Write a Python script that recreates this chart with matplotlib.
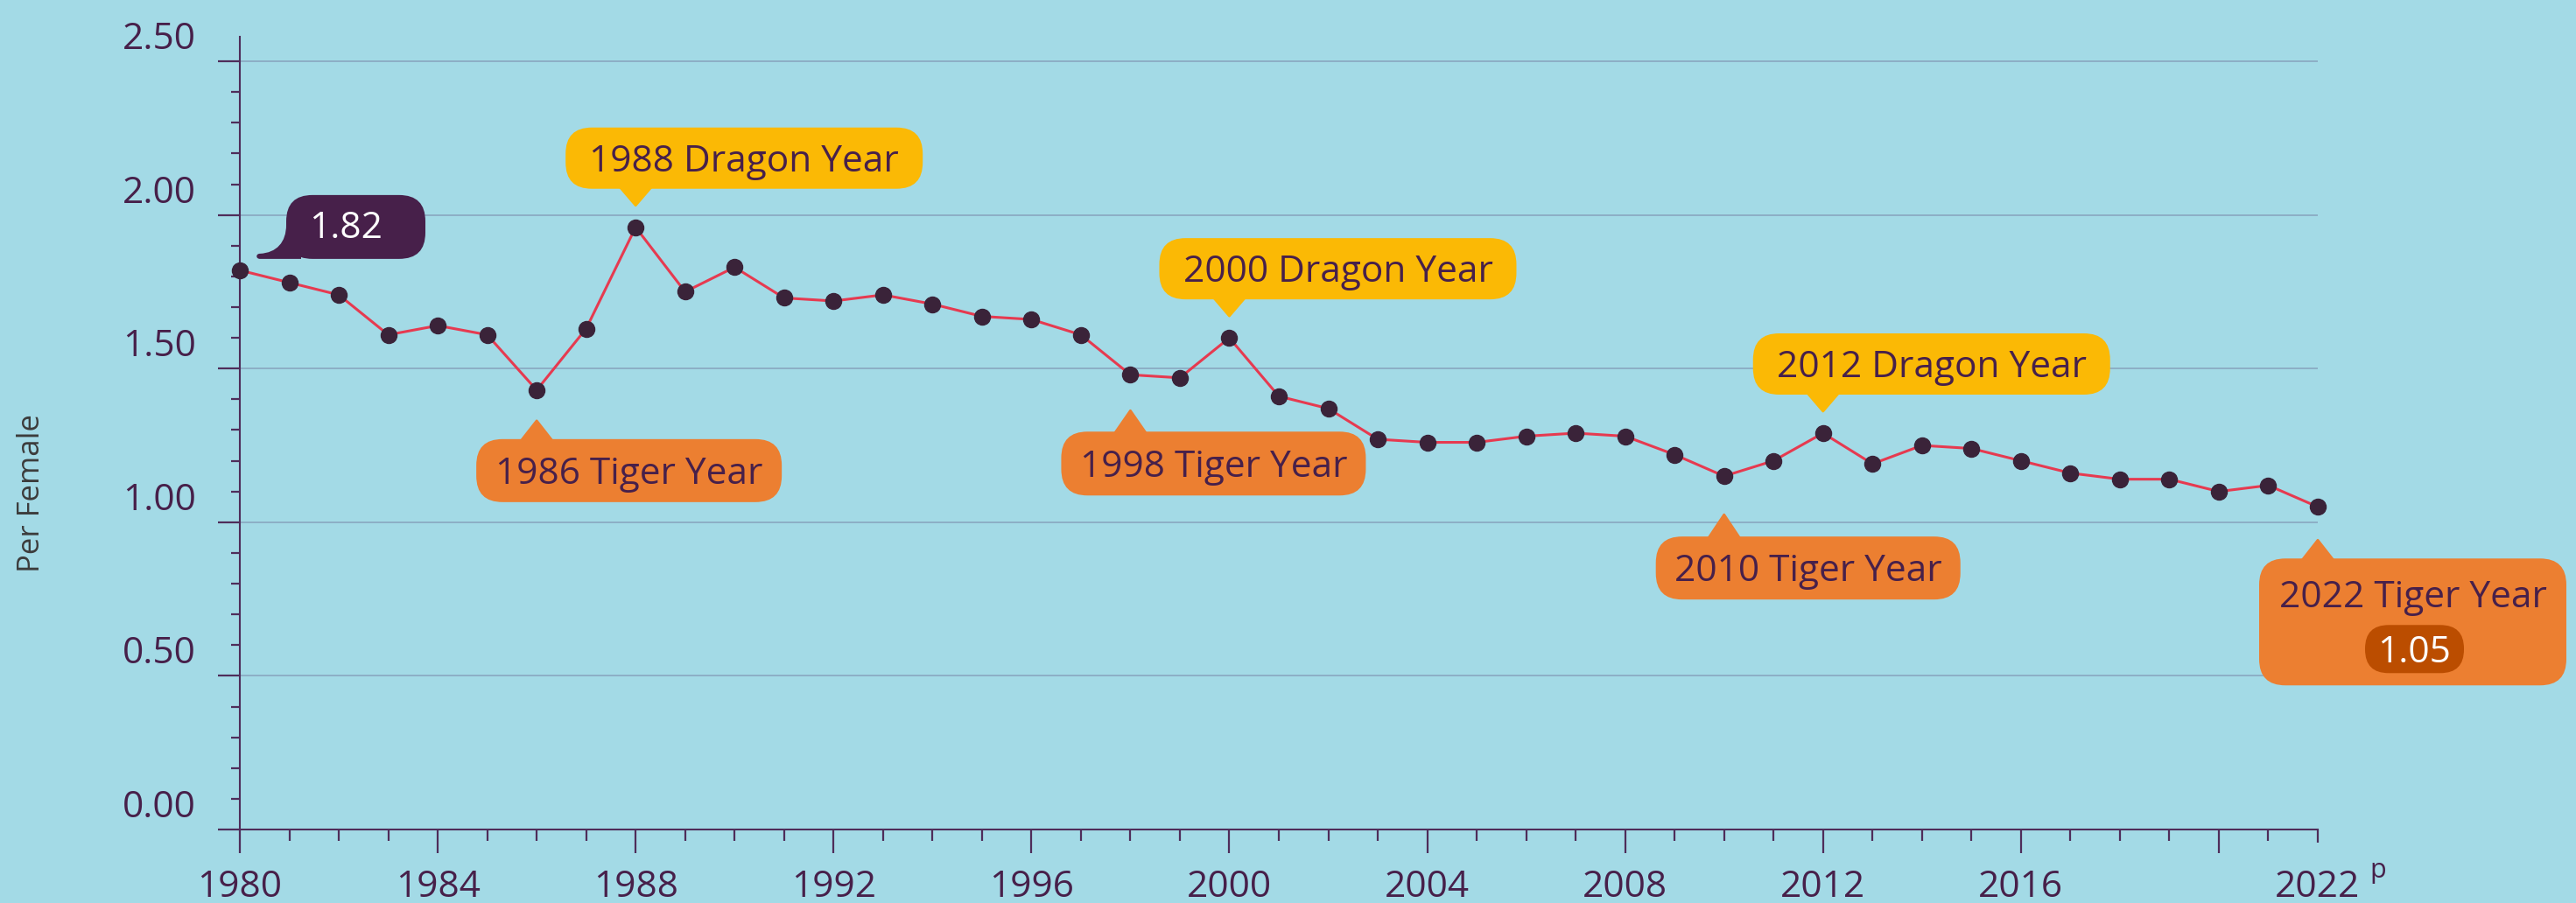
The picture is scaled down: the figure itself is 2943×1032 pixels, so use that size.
import matplotlib
matplotlib.use("Agg")
import matplotlib.pyplot as plt
import matplotlib.transforms as mtransforms
from matplotlib.patches import FancyBboxPatch, Polygon, PathPatch
from matplotlib.path import Path
from matplotlib.ticker import MultipleLocator, FixedLocator

# ---------------- data ----------------
years = list(range(1980, 2023))
tfr = [1.82, 1.78, 1.74, 1.61, 1.64, 1.61, 1.43, 1.63, 1.96, 1.75,
       1.83, 1.73, 1.72, 1.74, 1.71, 1.67, 1.66, 1.61, 1.48, 1.47,
       1.60, 1.41, 1.37, 1.27, 1.26, 1.26, 1.28, 1.29, 1.28, 1.22,
       1.15, 1.20, 1.29, 1.19, 1.25, 1.24, 1.20, 1.16, 1.14, 1.14,
       1.10, 1.12, 1.05]
x_ticks = [1980, 1984, 1988, 1992, 1996, 2000, 2004, 2008, 2012, 2016, 2020, 2022]
x_tick_labels = ["1980", "1984", "1988", "1992", "1996", "2000", "2004",
                 "2008", "2012", "2016", "", "2022"]
y_ticks = [0.0, 0.5, 1.0, 1.5, 2.0, 2.5]
y_tick_labels = ["0.00", "0.50", "1.00", "1.50", "2.00", "2.50"]
y_label = "Per Female"
dragon_years = [1988, 2000, 2012]
tiger_years = [1986, 1998, 2010]
last_year = 2022
first_year = 1980

# ---------------- style ----------------
BG = "#a3dae6"
PURPLE = "#47204a"
TICKC = "#4f2d5a"
LINE = "#e63a50"
MARK = "#3a2339"
YELLOW = "#fbb905"
ORANGE = "#ec7f31"
DARKORANGE = "#bb4d00"
GRID = "#8daec6"
FONT = "Open Sans"
FS = 30.5
DPI = 100

plt.rcParams["font.family"] = [FONT, "DejaVu Sans"]

fig = plt.figure(figsize=(29.43, 10.32), dpi=DPI, facecolor=BG)
ax = fig.add_axes([274 / 2943, 84 / 1032, (2648 - 274) / 2943, (948 - 42) / 1032])
ax.set_facecolor(BG)

ax.plot(years, tfr, color=LINE, lw=2.2, zorder=3, clip_on=False)
ax.plot(years, tfr, ls="none", marker="o", ms=13, color=MARK, zorder=4, clip_on=False)

ax.set_xlim(first_year, last_year)
ax.set_ylim(0, 2.58)

for s in ["top", "right"]:
    ax.spines[s].set_visible(False)
for s in ["left", "bottom"]:
    ax.spines[s].set_color(TICKC)
    ax.spines[s].set_linewidth(1.5)

ax.set_yticks(y_ticks)
ax.set_yticklabels(y_tick_labels)
ax.yaxis.set_minor_locator(MultipleLocator(0.1))
ax.set_xticks(x_ticks)
ax.set_xticklabels(x_tick_labels)
ax.xaxis.set_minor_locator(MultipleLocator(1))

ax.tick_params(axis="y", which="major", direction="out", length=18, width=1.6,
               color=TICKC, labelcolor=PURPLE, labelsize=FS, pad=18)
ax.tick_params(axis="y", which="minor", direction="out", length=7.5, width=1.6, color=TICKC)
ax.tick_params(axis="x", which="major", direction="out", length=19.5, width=1.6,
               color=TICKC, labelcolor=PURPLE, labelsize=FS, pad=13)
ax.tick_params(axis="x", which="minor", direction="out", length=9.5, width=1.6, color=TICKC)
ax.get_xaxis().get_major_ticks()[-1].tick1line.set_markersize(10.5)

for lab in ax.get_yticklabels():
    lab.set_fontfamily([FONT, "DejaVu Sans"])
    lab.set_transform(lab.get_transform() +
                      mtransforms.ScaledTranslation(0, 0.30, fig.dpi_scale_trans))
for lab in ax.get_xticklabels():
    lab.set_fontfamily([FONT, "DejaVu Sans"])

ax.yaxis.grid(True, which="major", color=GRID, lw=1.4)
ax.set_axisbelow(True)

ax.annotate("p", xy=(last_year, 0), xycoords="data", xytext=(59, -55),
            textcoords="offset pixels", ha="left", va="baseline",
            fontsize=22, color=PURPLE, annotation_clip=False)

fig.text(36 / 2943, 1 - 563 / 1032, y_label, rotation=90, ha="center", va="center",
         fontsize=25, color="#3c3c3c")

# ---------------- bubbles ----------------
def px(v):
    return v / DPI


def anchor(x, y):
    return fig.dpi_scale_trans + mtransforms.ScaledTranslation(x, y, ax.transData)


CAP_HALF = 15
R = 30


def bubble(x, y, label, fc, box, tip, tc=PURPLE):
    left, right, bottom, top = box
    T = anchor(x, y)
    p = FancyBboxPatch((px(left), px(bottom)), px(right - left), px(top - bottom),
                       boxstyle=f"round,pad=0,rounding_size={px(R)}",
                       fc=fc, ec="none", transform=T, clip_on=False, zorder=6)
    ax.add_patch(p)
    if tip < bottom:
        base = bottom + 2
    else:
        base = top - 2
    tri = Polygon([(px(-18), px(base)), (px(18), px(base)), (0, px(tip))],
                  closed=True, fc=fc, ec=fc, lw=2, joinstyle="round",
                  transform=T, clip_on=False, zorder=6)
    ax.add_patch(tri)
    return T


val = dict(zip(years, tfr))

# dragon years
for yr in dragon_years:
    box = (-80, 328, 44, 114)
    T = bubble(yr, val[yr], None, YELLOW, box, 25)
    cx = (box[0] + box[1]) / 2
    cy = (box[2] + box[3]) / 2
    ax.text(px(cx), px(cy - CAP_HALF), f"{yr} Dragon Year", transform=T,
            ha="center", va="baseline", fontsize=FS, color=PURPLE, zorder=7)

# tiger years
tiger_boxes = {1986: ((-69, 280, -128, -56), -35),
               1998: ((-79, 269, -138, -65), -41),
               2010: ((-78, 270, -141, -69), -44)}
for yr in tiger_years:
    box, tp = tiger_boxes[yr]
    T = bubble(yr, val[yr], None, ORANGE, box, tp)
    cx = (box[0] + box[1]) / 2
    cy = (box[2] + box[3]) / 2
    ax.text(px(cx), px(cy - CAP_HALF), f"{yr} Tiger Year", transform=T,
            ha="center", va="baseline", fontsize=FS, color=PURPLE, zorder=7)

# 2022 tiger year with value
box = (-67, 284, -204, -59)
T = bubble(last_year, val[last_year], None, ORANGE, box, -38)
cx = (box[0] + box[1]) / 2
ax.text(px(cx), px(-115), f"{last_year} Tiger Year", transform=T,
        ha="center", va="baseline", fontsize=FS, color=PURPLE, zorder=7)
pill = FancyBboxPatch((px(54), px(-190)), px(113), px(55),
                      boxstyle=f"round,pad=0,rounding_size={px(27)}",
                      fc=DARKORANGE, ec="none", transform=T, clip_on=False, zorder=7)
ax.add_patch(pill)
ax.text(px(110), px(-178), f"{val[last_year]:.2f}", transform=T, ha="center",
        va="baseline", fontsize=FS, color="white", zorder=8)

# first value bubble (1980)
T = anchor(first_year, val[first_year])
ax.add_patch(FancyBboxPatch((px(53), px(13)), px(159), px(73),
                            boxstyle=f"round,pad=0,rounding_size={px(R)}",
                            fc=PURPLE, ec="none", transform=T, clip_on=False, zorder=6))
verts = [(70, 13), (23, 13), (18, 13), (18, 19), (23, 19),
         (42, 20), (53, 32), (53, 52), (70, 52), (70, 13)]
codes = [Path.MOVETO, Path.LINETO, Path.CURVE4, Path.CURVE4, Path.CURVE4,
         Path.CURVE4, Path.CURVE4, Path.CURVE4, Path.LINETO, Path.CLOSEPOLY]
tail = Path([(px(a), px(b)) for a, b in verts], codes)
ax.add_patch(PathPatch(tail, fc=PURPLE, ec="none", transform=T, clip_on=False, zorder=6))
ax.text(px(121), px(37), f"{val[first_year]:.2f}", transform=T, ha="center",
        va="baseline", fontsize=FS, color="white", zorder=7)

fig.savefig("out.png", dpi=DPI, facecolor=BG)
